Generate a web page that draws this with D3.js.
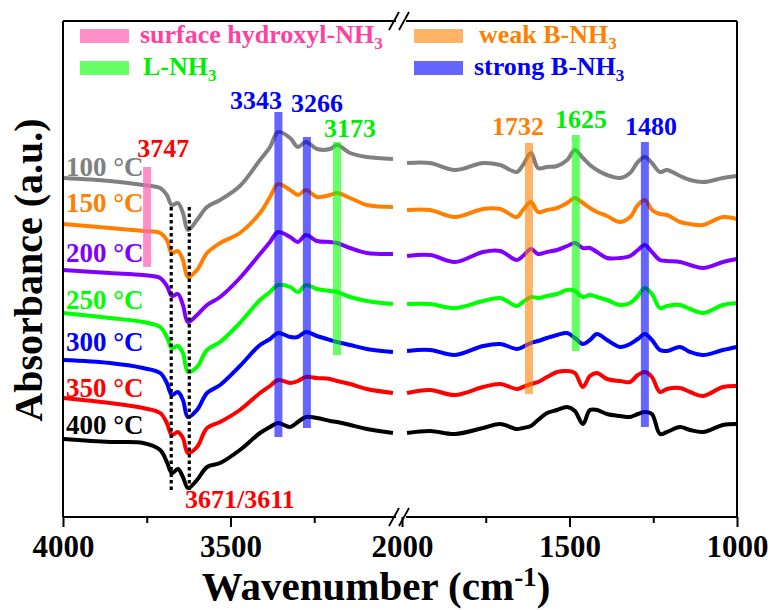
<!DOCTYPE html>
<html>
<head>
<meta charset="utf-8">
<script src="https://cdn.jsdelivr.net/npm/d3@7"></script>
<style>
  body { margin: 0; background: #fff; }
  text { font-family: "Liberation Serif", "Times New Roman", serif; font-weight: bold; }
</style>
</head>
<body>
<div id="viz"></div>
<script>
// wavenumbers of the two panels
const wnLeft = [4000, 3860, 3761, 3710, 3690, 3675, 3657, 3642, 3627, 3600, 3570, 3531, 3472, 3412, 3382, 3358, 3322, 3299, 3275, 3242, 3203, 3182, 3143, 3093, 3015];
const wnRight = [1985, 1916, 1842, 1758, 1707, 1657, 1639, 1615, 1594, 1567, 1537, 1507, 1484, 1460, 1439, 1418, 1388, 1349, 1319, 1296, 1275, 1254, 1230, 1209, 1170, 1140, 1101, 1042, 1000];

const temps = ["100 °C", "150 °C", "200 °C", "250 °C", "300 °C", "350 °C", "400 °C"];
const colors = ["#808080", "#ff8000", "#8000ff", "#00ff00", "#0000ff", "#ff0000", "#000000"];

// absorbance (offset, a.u.) left panel 4000-3000
const left100 = [3.39, 3.36, 3.32, 3.29, 3.22, 3.12, 3.14, 3.04, 2.87, 2.97, 3.10, 3.17, 3.31, 3.57, 3.70, 3.85, 3.79, 3.70, 3.75, 3.68, 3.68, 3.72, 3.64, 3.60, 3.58];
const left150 = [2.93, 2.89, 2.86, 2.84, 2.77, 2.64, 2.66, 2.57, 2.40, 2.47, 2.64, 2.74, 2.84, 3.04, 3.20, 3.33, 3.27, 3.22, 3.27, 3.20, 3.22, 3.24, 3.19, 3.12, 3.10];
const left200 = [2.47, 2.44, 2.42, 2.39, 2.31, 2.21, 2.23, 2.12, 1.95, 2.02, 2.12, 2.20, 2.39, 2.63, 2.75, 2.85, 2.80, 2.75, 2.82, 2.76, 2.75, 2.74, 2.69, 2.64, 2.63];
const left250 = [2.04, 1.99, 1.95, 1.90, 1.80, 1.69, 1.71, 1.64, 1.45, 1.50, 1.67, 1.75, 1.94, 2.17, 2.25, 2.32, 2.30, 2.25, 2.32, 2.28, 2.26, 2.25, 2.20, 2.16, 2.13];
const left300 = [1.57, 1.54, 1.49, 1.44, 1.34, 1.22, 1.25, 1.17, 1.00, 1.07, 1.24, 1.32, 1.51, 1.72, 1.78, 1.84, 1.80, 1.80, 1.85, 1.81, 1.77, 1.75, 1.72, 1.68, 1.65];
const left350 = [1.19, 1.14, 1.09, 1.04, 0.94, 0.82, 0.85, 0.79, 0.64, 0.70, 0.89, 0.95, 1.07, 1.24, 1.31, 1.37, 1.34, 1.36, 1.40, 1.39, 1.38, 1.36, 1.33, 1.28, 1.24];
const left400 = [0.78, 0.75, 0.74, 0.67, 0.55, 0.44, 0.48, 0.40, 0.29, 0.37, 0.50, 0.54, 0.67, 0.84, 0.90, 0.94, 0.90, 0.95, 1.00, 0.99, 0.96, 0.95, 0.92, 0.88, 0.84];

// right panel 2000-1000
const right100 = [3.54, 3.54, 3.47, 3.54, 3.52, 3.45, 3.52, 3.64, 3.49, 3.50, 3.51, 3.57, 3.67, 3.59, 3.52, 3.47, 3.42, 3.39, 3.44, 3.55, 3.60, 3.54, 3.45, 3.47, 3.41, 3.37, 3.35, 3.39, 3.41];
const right150 = [3.07, 3.07, 3.00, 3.08, 3.08, 3.00, 3.07, 3.15, 3.05, 3.07, 3.09, 3.14, 3.19, 3.14, 3.09, 3.05, 3.01, 2.95, 3.00, 3.12, 3.17, 3.07, 3.03, 3.02, 2.95, 2.93, 2.92, 3.00, 2.98];
const right200 = [2.61, 2.62, 2.55, 2.65, 2.66, 2.57, 2.61, 2.68, 2.63, 2.65, 2.67, 2.71, 2.74, 2.69, 2.69, 2.65, 2.59, 2.59, 2.61, 2.67, 2.72, 2.65, 2.57, 2.56, 2.55, 2.52, 2.49, 2.55, 2.58];
const right250 = [2.13, 2.13, 2.09, 2.16, 2.19, 2.11, 2.15, 2.20, 2.19, 2.21, 2.23, 2.27, 2.26, 2.20, 2.22, 2.20, 2.17, 2.12, 2.14, 2.21, 2.29, 2.23, 2.09, 2.11, 2.12, 2.08, 2.04, 2.12, 2.14];
const right300 = [1.66, 1.67, 1.62, 1.71, 1.73, 1.68, 1.70, 1.74, 1.76, 1.79, 1.82, 1.84, 1.79, 1.73, 1.77, 1.83, 1.77, 1.70, 1.73, 1.78, 1.83, 1.77, 1.67, 1.66, 1.70, 1.65, 1.62, 1.67, 1.70];
const right350 = [1.24, 1.27, 1.22, 1.30, 1.33, 1.28, 1.30, 1.33, 1.35, 1.40, 1.45, 1.46, 1.44, 1.30, 1.41, 1.44, 1.38, 1.36, 1.35, 1.42, 1.45, 1.40, 1.25, 1.28, 1.29, 1.25, 1.21, 1.30, 1.31];
const right400 = [0.84, 0.86, 0.83, 0.89, 0.93, 0.88, 0.89, 0.91, 0.97, 1.04, 1.07, 1.10, 1.06, 0.93, 1.07, 1.07, 1.03, 1.01, 1.00, 1.03, 1.05, 1.03, 0.83, 0.85, 0.90, 0.87, 0.85, 0.92, 0.93];

const leftSeries = [left100, left150, left200, left250, left300, left350, left400];
const rightSeries = [right100, right150, right200, right250, right300, right350, right400];
const tempLabelY = [3.41, 3.05, 2.55, 2.08, 1.66, 1.20, 0.83];

// marked bands
const bandText = ["3747", "3343", "3266", "3173", "1732", "1625", "1480"];
const bandPos = [3749, 3357, 3272, 3182, 1621, 1481, 1275];
const bandTop = [3.50, 4.05, 3.80, 3.75, 3.74, 3.82, 3.75];
const bandBottom = [2.50, 0.80, 0.89, 1.62, 1.23, 1.66, 0.90];
const bandKind = ["hydroxyl", "strong", "strong", "L", "weak", "L", "strong"];
const bandTextX = [3701, 3424, 3242, 3143, 1654, 1466, 1257];
const bandTextY = [3.60, 4.08, 4.05, 3.80, 3.82, 3.89, 3.82];
const bandTextColor = ["#ff0000", "#0000ff", "#0000ff", "#00ee00", "#ff8000", "#00ee00", "#0000ff"];

const dotPos = [3677, 3623];
const dotRange = [3.10, 0.27];

const legendNames = ["surface hydroxyl-NH", "L-NH", "weak B-NH", "strong B-NH"];
const legendKinds = ["hydroxyl", "L", "weak", "strong"];

const kindFill = { hydroxyl: "#ff69b4", L: "#00ff00", weak: "#ff8000", strong: "#0000ff" };
const kindOpacity = { hydroxyl: 0.75, L: 0.6, weak: 0.6, strong: 0.6 };
const kindText = { hydroxyl: "#ff40a0", L: "#00ee00", weak: "#ff8000", strong: "#0000ff" };

const majorLeft = [4000, 3500], minorLeft = [3750, 3250];
const majorRight = [2000, 1500, 1000], minorRight = [1750, 1250];

const width = 772, height = 610;
const yTop = 21, yBottom = 517, x0 = 63, x1 = 737;

const svg = d3.select("#viz").append("svg")
  .attr("width", width).attr("height", height);

const xL = d3.scaleLinear().domain([4000, 3000]).range([x0, 398]);
const xR = d3.scaleLinear().domain([2000, 1000]).range([402, x1]);
const y = d3.scaleLinear().domain([0, 4.96]).range([yBottom, yTop]);
const xAny = wn => (wn > 2500 ? xL(wn) : xR(wn));

// curves
const lineL = d3.line().x((d, i) => xL(wnLeft[i])).y(d => y(d)).curve(d3.curveCatmullRom.alpha(0.5));
const lineR = d3.line().x((d, i) => xR(wnRight[i])).y(d => y(d)).curve(d3.curveCatmullRom.alpha(0.5));

svg.append("g").selectAll("path").data(leftSeries).join("path")
  .attr("d", d => lineL(d)).attr("fill", "none")
  .attr("stroke", (d, i) => colors[i]).attr("stroke-width", 4)
  .attr("stroke-linejoin", "round");
svg.append("g").selectAll("path").data(rightSeries).join("path")
  .attr("d", d => lineR(d)).attr("fill", "none")
  .attr("stroke", (d, i) => colors[i]).attr("stroke-width", 4)
  .attr("stroke-linejoin", "round");

// dotted guide lines
svg.append("g").selectAll("line").data(dotPos).join("line")
  .attr("x1", d => xL(d)).attr("x2", d => xL(d))
  .attr("y1", y(dotRange[0])).attr("y2", y(dotRange[1]))
  .attr("stroke", "#000").attr("stroke-width", 3.2).attr("stroke-dasharray", "3.5,3");

// bands
svg.append("g").selectAll("rect").data(bandPos).join("rect")
  .attr("x", d => xAny(d) - 4).attr("width", 8)
  .attr("y", (d, i) => y(bandTop[i]))
  .attr("height", (d, i) => y(bandBottom[i]) - y(bandTop[i]))
  .attr("fill", (d, i) => kindFill[bandKind[i]])
  .attr("fill-opacity", (d, i) => kindOpacity[bandKind[i]]);

svg.append("g").selectAll("text").data(bandText).join("text")
  .attr("x", (d, i) => xAny(bandTextX[i])).attr("y", (d, i) => y(bandTextY[i]))
  .attr("text-anchor", "middle").attr("font-size", 26)
  .attr("fill", (d, i) => bandTextColor[i]).text(d => d);

svg.append("text")
  .attr("x", xL(3472)).attr("y", y(0.09))
  .attr("text-anchor", "middle").attr("font-size", 26)
  .attr("fill", "#ff0000").text("3671/3611");

// temperature labels
svg.append("g").selectAll("text").data(temps).join("text")
  .attr("x", x0 + 3).attr("y", (d, i) => y(tempLabelY[i]))
  .attr("font-size", 27).attr("fill", (d, i) => colors[i]).text(d => d);

// frame with axis break
const frame = svg.append("g").attr("stroke", "#000").attr("stroke-width", 2).attr("fill", "none");
[[x0, 396], [406, x1]].forEach(s => {
  frame.append("line").attr("x1", s[0]).attr("x2", s[1]).attr("y1", yTop).attr("y2", yTop);
  frame.append("line").attr("x1", s[0]).attr("x2", s[1]).attr("y1", yBottom).attr("y2", yBottom);
});
frame.append("line").attr("x1", x0).attr("x2", x0).attr("y1", yTop).attr("y2", yBottom);
frame.append("line").attr("x1", x1).attr("x2", x1).attr("y1", yTop).attr("y2", yBottom);
[yTop, yBottom].forEach(yy => {
  [392, 402].forEach(xx => {
    frame.append("line").attr("x1", xx - 3).attr("y1", yy + 9)
      .attr("x2", xx + 7).attr("y2", yy - 9).attr("stroke-width", 1.8);
  });
});

// axes ticks
function ticks(scale, major, minor) {
  const gMaj = svg.append("g").attr("transform", `translate(0,${yBottom})`)
    .call(d3.axisBottom(scale).tickValues(major).tickSize(10).tickSizeOuter(0).tickPadding(8).tickFormat(d3.format("d")));
  gMaj.select(".domain").remove();
  gMaj.selectAll("line").attr("stroke-width", 2);
  gMaj.selectAll("text").attr("font-size", 31).attr("fill", "#000")
    .style("font-family", "'Liberation Serif', serif").style("font-weight", "bold");
  const gMin = svg.append("g").attr("transform", `translate(0,${yBottom})`)
    .call(d3.axisBottom(scale).tickValues(minor).tickSize(6).tickSizeOuter(0).tickFormat(""));
  gMin.select(".domain").remove();
  gMin.selectAll("line").attr("stroke-width", 2);
}
ticks(xL, majorLeft, minorLeft);
ticks(xR, majorRight, minorRight);

// axis titles
const xt = svg.append("text").attr("x", 376).attr("y", 600)
  .attr("text-anchor", "middle").attr("font-size", 41).attr("fill", "#000");
xt.append("tspan").text("Wavenumber (cm");
xt.append("tspan").attr("dy", -14).attr("font-size", 27).text("-1");
xt.append("tspan").attr("dy", 14).text(")");

svg.append("text").attr("transform", "translate(42,270) rotate(-90)")
  .attr("text-anchor", "middle").attr("font-size", 40).attr("fill", "#000")
  .text("Absorbance (a.u.)");

// legend
const legX = [80, 80, 414, 414], legY = [36, 68, 36, 68], legTX = [140, 143, 479, 474];
legendNames.forEach((name, i) => {
  const k = legendKinds[i];
  svg.append("rect").attr("x", legX[i]).attr("y", legY[i] - 7).attr("width", 49).attr("height", 14)
    .attr("fill", kindFill[k]).attr("fill-opacity", kindOpacity[k]);
  const t = svg.append("text").attr("x", legTX[i]).attr("y", legY[i] + 7)
    .attr("font-size", 26).attr("fill", kindText[k]);
  t.append("tspan").text(name);
  t.append("tspan").attr("dy", 6).attr("font-size", 17).text("3");
});
</script>
</body>
</html>
